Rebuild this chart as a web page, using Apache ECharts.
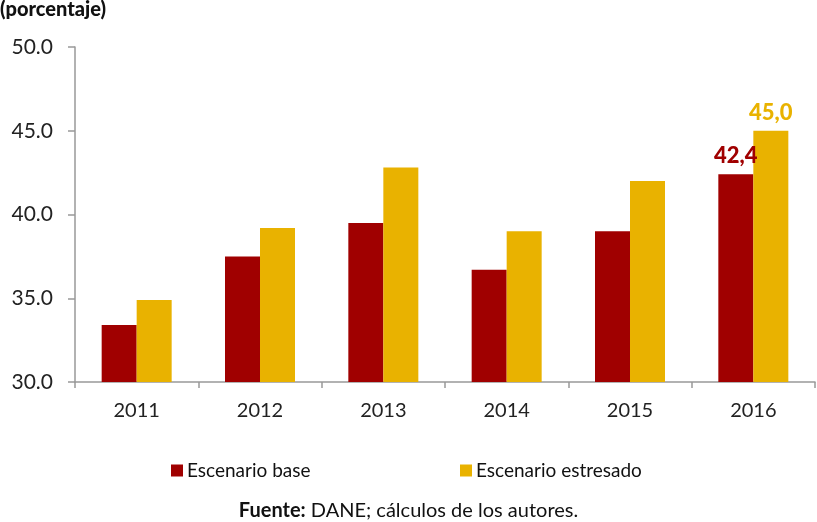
<!DOCTYPE html>
<html>
<head>
<meta charset="utf-8">
<script src="https://cdn.jsdelivr.net/npm/echarts@6/dist/echarts.min.js"></script>
<style>
  html, body { margin: 0; padding: 0; background: #fff; }
  #chart { width: 817px; height: 522px; }
</style>
</head>
<body>
<div id="chart"></div>
<script>
var years = ['2011', '2012', '2013', '2014', '2015', '2016'];
var baseValues = [33.4, 37.5, 39.5, 36.7, 39.0, 42.4];
var stressValues = [34.9, 39.2, 42.8, 39.0, 42.0, 45.0];
var seriesNames = ['Escenario base', 'Escenario estresado'];
var yTicks = [30, 35, 40, 45, 50];

var baseColor = '#A00000';
var stressColor = '#E9B200';
var font = 'Lato';

// only the last year carries a value label
function withLastLabel(values, color) {
    return values.map(function (v, i) {
        if (i !== values.length - 1) return v;
        return {
            value: v,
            label: {
                show: true,
                position: 'top',
                distance: 7,
                color: color,
                fontFamily: font,
                fontWeight: 900,
                fontSize: 22,
                formatter: function (p) { return p.value.toFixed(1).replace('.', ','); }
            }
        };
    });
}

var chart = echarts.init(document.getElementById('chart'));

chart.setOption({
    animation: false,
    textStyle: { fontFamily: font },
    grid: { left: 75, right: 2, top: 47, bottom: 140 },
    graphic: [
        {
            type: 'text', left: 0, top: 0,
            style: { text: '(porcentaje)', font: '900 20px Lato', fill: '#111' }
        },
        {
            type: 'text', left: 'center', top: 501,
            style: {
                text: '{b|Fuente:} DANE; cálculos de los autores.',
                fill: '#111',
                font: '20px Lato',
                rich: {
                    b: { fontWeight: 'bold', fontSize: 20, fontFamily: font, fill: '#111' }
                }
            }
        }
    ],
    legend: [
        {
            left: 166, top: 456, itemWidth: 12, itemHeight: 12, icon: 'rect', itemGap: 6,
            data: [seriesNames[0]],
            textStyle: { fontSize: 19, color: '#111', fontFamily: font, padding: [0, 0, 0, -1] }
        },
        {
            left: 455, top: 456, itemWidth: 12, itemHeight: 12, icon: 'rect',
            data: [seriesNames[1]],
            textStyle: { fontSize: 19, color: '#111', fontFamily: font, padding: [0, 0, 0, -1] }
        }
    ],
    xAxis: {
        type: 'category',
        data: years,
        axisLine: { lineStyle: { color: '#999', width: 1.5 } },
        axisTick: { show: true, alignWithLabel: false, length: 6, lineStyle: { color: '#999', width: 1.5 } },
        axisLabel: { fontSize: 20, color: '#222', margin: 19 }
    },
    yAxis: {
        type: 'value',
        min: yTicks[0],
        max: yTicks[yTicks.length - 1],
        interval: yTicks[1] - yTicks[0],
        axisLine: { show: true, lineStyle: { color: '#999', width: 1.5 } },
        axisTick: { show: true, length: 7, lineStyle: { color: '#999', width: 1.5 } },
        splitLine: { show: false },
        axisLabel: {
            fontSize: 21, color: '#222', margin: 22,
            formatter: function (v) { return v.toFixed(1); }
        }
    },
    series: [
        {
            name: seriesNames[0],
            type: 'bar',
            data: withLastLabel(baseValues, baseColor),
            itemStyle: { color: baseColor },
            barWidth: 35,
            barGap: '0%'
        },
        {
            name: seriesNames[1],
            type: 'bar',
            data: withLastLabel(stressValues, stressColor),
            itemStyle: { color: stressColor },
            barWidth: 35,
            barGap: '0%'
        }
    ]
});
</script>
</body>
</html>
